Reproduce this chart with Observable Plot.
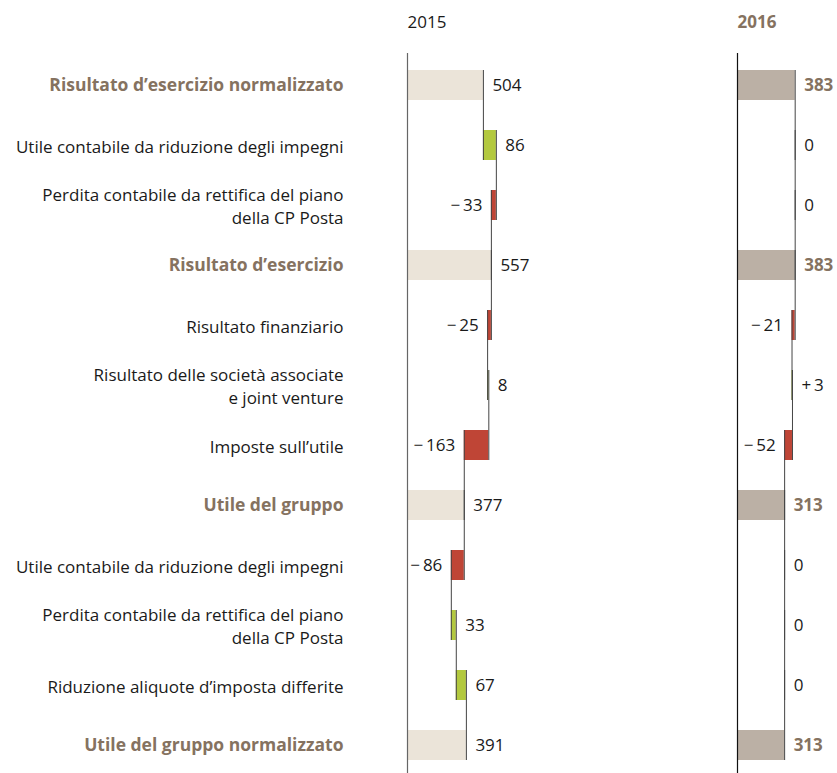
<!DOCTYPE html>
<html><head><meta charset="utf-8">
<script src="https://cdn.jsdelivr.net/npm/d3@7"></script>
<script src="https://cdn.jsdelivr.net/npm/@observablehq/plot@0.6"></script>
<style>
html,body{margin:0;padding:0;background:#fff;}
#chart svg{display:block;overflow:visible;}
</style>
</head><body><div id="chart"></div>
<script>
// ---- data ----
const rowLabels = [
  "Risultato d’esercizio normalizzato",
  "Utile contabile da riduzione degli impegni",
  "Perdita contabile da rettifica del piano\ndella CP Posta",
  "Risultato d’esercizio",
  "Risultato finanziario",
  "Risultato delle società associate\ne joint venture",
  "Imposte sull’utile",
  "Utile del gruppo",
  "Utile contabile da riduzione degli impegni",
  "Perdita contabile da rettifica del piano\ndella CP Posta",
  "Riduzione aliquote d’imposta differite",
  "Utile del gruppo normalizzato"
];
const rowKinds = ["total","delta","delta","total","delta","delta","delta","total","delta","delta","delta","total"];
const years = ["2015", "2016"];
const values2015 = [504, 86, -33, 557, -25, 8, -163, 377, -86, 33, 67, 391];
const values2016 = [383, 0, 0, 383, -21, 3, -52, 313, 0, 0, 0, 313];

// ---- derived waterfall table ----
function build(year, values) {
  let cum = 0;
  return values.map((v, i) => {
    const total = rowKinds[i] === "total";
    const start = total ? 0 : cum;
    const end = total ? v : cum + v;
    cum = end;
    let label;
    if (total) label = String(v);
    else if (v < 0) label = "\u2212\u2009" + Math.abs(v);
    else if (v > 0 && year === "2016") label = "+\u2009" + v;
    else label = String(v);
    const kind = total ? "total" + year : (v < 0 ? "neg" : "pos");
    return {year, i, value: v, total, start, end, lo: Math.min(start, end), hi: Math.max(start, end), label, kind};
  });
}
const rows = [...build("2015", values2015), ...build("2016", values2016)];
const bars = rows.filter(d => d.value !== 0);
const connectors = rows.filter(d => d.i < rowLabels.length - 1);
const labelRows = rowLabels.map((text, i) => ({i, text, total: rowKinds[i] === "total"}));

const font = "'Open Sans', sans-serif";
const brown = "#857260";
const ink = "#1a1a1a";

const chart = Plot.plot({
  width: 837,
  height: 775,
  marginLeft: 407,
  marginRight: 0,
  marginTop: 55,
  marginBottom: 0,
  style: {fontFamily: font, fontSize: "17px", color: ink, background: "#fff"},
  fx: {domain: years, paddingInner: 0.697, paddingOuter: 0, axis: null},
  x: {domain: [0, 664], axis: null},
  y: {domain: [-0.5, 11.5], reverse: true, axis: null},
  color: {domain: ["total2015", "total2016", "neg", "pos"], range: ["#ebe4d9", "#bbb0a5", "#bf4536", "#b3c93e"]},
  marks: [
    // bars
    Plot.rect(bars, {fx: "year", x1: "lo", x2: "hi", y1: d => d.i - 0.25, y2: d => d.i + 0.25, fill: "kind"}),
    // baseline axis
    Plot.ruleX(years.map(y => ({year: y})), {fx: "year", x: () => 0, stroke: d => d.year === "2015" ? "#666" : "#111", insetTop: -2, strokeWidth: 1.2}),
    // connectors
    Plot.ruleX(connectors, {fx: "year", x: "end", y1: d => d.i - 0.25, y2: d => d.i + 1.25, stroke: "#444", strokeWidth: 1}),
    // value labels
    Plot.text(rows.filter(d => d.value >= 0 && !(d.total && d.year === "2016")), {fx: "year", x: "hi", y: "i", text: "label", textAnchor: "start", dx: 9, fill: ink, fontSize: 17}),
    Plot.text(rows.filter(d => d.total && d.year === "2016"), {fx: "year", x: "hi", y: "i", text: "label", textAnchor: "start", dx: 9, fill: brown, fontWeight: "bold", fontSize: 17}),
    Plot.text(rows.filter(d => d.value < 0), {fx: "year", x: "lo", y: "i", text: "label", textAnchor: "end", dx: -9, fill: ink, fontSize: 17}),
    // row labels (left margin)
    Plot.text(labelRows.filter(d => !d.total), {fx: () => "2015", y: "i", text: "text", frameAnchor: "left", textAnchor: "end", dx: -64, fill: ink, fontSize: 17, lineHeight: 1.32}),
    Plot.text(labelRows.filter(d => d.total), {fx: () => "2015", y: "i", text: "text", frameAnchor: "left", textAnchor: "end", dx: -64, fill: brown, fontWeight: "bold", fontSize: 17.5}),
    // year headers
    Plot.text(["2015"], {fx: d => d, text: d => d, frameAnchor: "top-left", lineAnchor: "middle", textAnchor: "start", dy: -33, fill: ink, fontSize: 17}),
    Plot.text(["2016"], {fx: d => d, text: d => d, frameAnchor: "top-left", lineAnchor: "middle", textAnchor: "start", dy: -33, fill: brown, fontWeight: "bold", fontSize: 17})
  ]
});
document.getElementById("chart").appendChild(chart);
</script>
</body></html>
